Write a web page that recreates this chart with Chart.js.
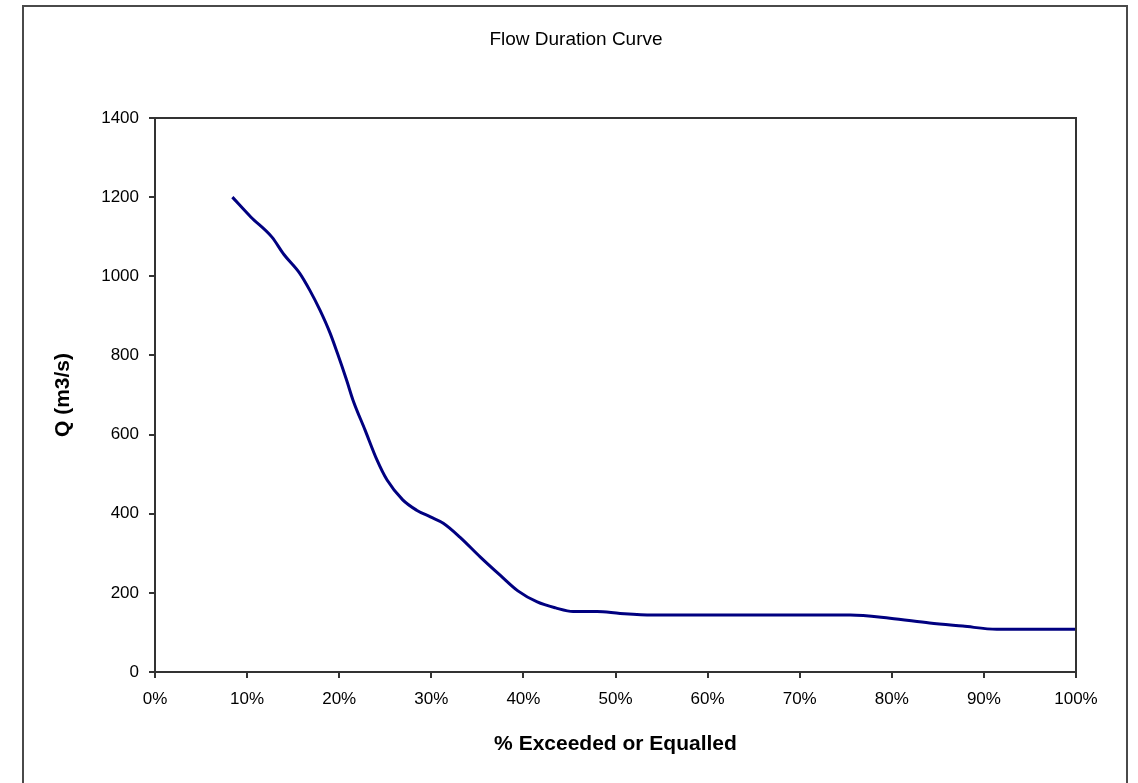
<!DOCTYPE html>
<html>
<head>
<meta charset="utf-8">
<title>Flow Duration Curve</title>
<script src="https://cdn.jsdelivr.net/npm/chart.js@4.4.1/dist/chart.umd.min.js"></script>
<style>
  html, body { margin: 0; padding: 0; background: #fff; overflow: hidden; }
  #frame {
    position: absolute; left: 22px; top: 5px;
    width: 1102px; height: 800px;
    border: 2px solid #4a4a4a;
  }
  #chart { position: absolute; left: 0; top: 0; }
</style>
</head>
<body>
<div id="frame"></div>
<canvas id="chart" width="1138" height="783"></canvas>
<script>
// % of time the flow is exceeded or equalled
const exceedPct = [8.4, 10.4, 12.7, 14.0, 15.7, 16.8, 17.9, 19.0, 19.8, 20.8, 21.5, 22.8, 24.1, 25.2, 26.9, 28.4,
  29.9, 31.3, 33.1, 35.3, 37.5, 39.4, 41.5, 43.5, 45.4, 48.0, 50.5, 54.0, 60, 70, 75.5, 79.8, 84.1, 87.7, 91.4, 95, 100];
// flow Q (m3/s)
const flowQ = [1200, 1150, 1099, 1055, 1008, 965, 915, 857, 806, 738, 687, 612, 536, 485, 435, 409,
  392, 376, 341, 291, 244, 205, 177, 162, 153, 153, 148, 144, 144, 144, 144, 136, 124, 116, 108, 108, 108];

const xTicks = [0, 10, 20, 30, 40, 50, 60, 70, 80, 90, 100];
const yTicks = [0, 200, 400, 600, 800, 1000, 1200, 1400];

const chartTitle = 'Flow Duration Curve';
const xTitle = '% Exceeded or Equalled';
const yTitle = 'Q (m3/s)';

const points = exceedPct.map((x, i) => ({ x, y: flowQ[i] }));

const font = "'Liberation Sans', Arial, sans-serif";

// box around the plot area (top and right sides too)
const plotFrame = {
  id: 'plotFrame',
  afterDraw(chart) {
    const { ctx, chartArea: a } = chart;
    ctx.save();
    ctx.strokeStyle = '#333';
    ctx.lineWidth = 2;
    ctx.strokeRect(a.left, a.top, a.right - a.left, a.bottom - a.top);
    ctx.restore();
  }
};

// title centred on the outer frame, not on the chart box
const frameTitle = {
  id: 'frameTitle',
  afterDraw(chart) {
    const ctx = chart.ctx;
    ctx.save();
    ctx.fillStyle = '#000';
    ctx.font = '19px ' + font;
    ctx.textAlign = 'center';
    ctx.textBaseline = 'middle';
    ctx.fillText(chartTitle, 576, 40);
    ctx.restore();
  }
};

new Chart(document.getElementById('chart').getContext('2d'), {
  type: 'line',
  data: {
    datasets: [{
      data: points,
      borderColor: '#000080',
      borderWidth: 3,
      pointRadius: 0,
      fill: false,
      cubicInterpolationMode: 'monotone'
    }]
  },
  options: {
    responsive: false,
    animation: false,
    devicePixelRatio: 1,
    layout: { padding: { left: 0, right: 62, top: 118, bottom: 0 } },
    plugins: {
      legend: { display: false },
      tooltip: { enabled: false },
      title: { display: false }
    },
    scales: {
      x: {
        type: 'linear',
        min: 0,
        max: 100,
        afterBuildTicks: (s) => { s.ticks = xTicks.map(v => ({ value: v })); },
        afterFit: (s) => { s.height = 111; },
        ticks: {
          color: '#000',
          font: { family: font, size: 17 },
          padding: 11,
          maxRotation: 0,
          callback: (v) => v + '%'
        },
        grid: { drawOnChartArea: false, drawTicks: true, tickLength: 6, color: '#333', lineWidth: 2 },
        border: { display: true, color: '#333', width: 2 },
        title: {
          display: true,
          text: xTitle,
          color: '#000',
          font: { family: font, size: 21, weight: 'bold' },
          padding: { top: 0, bottom: 26 }
        }
      },
      y: {
        min: 0,
        max: 1400,
        afterBuildTicks: (s) => { s.ticks = yTicks.map(v => ({ value: v })); },
        afterFit: (s) => { s.width = 155; },
        ticks: {
          color: '#000',
          font: { family: font, size: 17 },
          padding: 10,
          callback: (v) => String(v)
        },
        grid: { drawOnChartArea: false, drawTicks: true, tickLength: 6, color: '#333', lineWidth: 2 },
        border: { display: true, color: '#333', width: 2 },
        title: {
          display: true,
          text: yTitle,
          color: '#000',
          font: { family: font, size: 21, weight: 'bold' },
          padding: { top: 51, bottom: 0 }
        }
      }
    }
  },
  plugins: [plotFrame, frameTitle]
});
</script>
</body>
</html>
